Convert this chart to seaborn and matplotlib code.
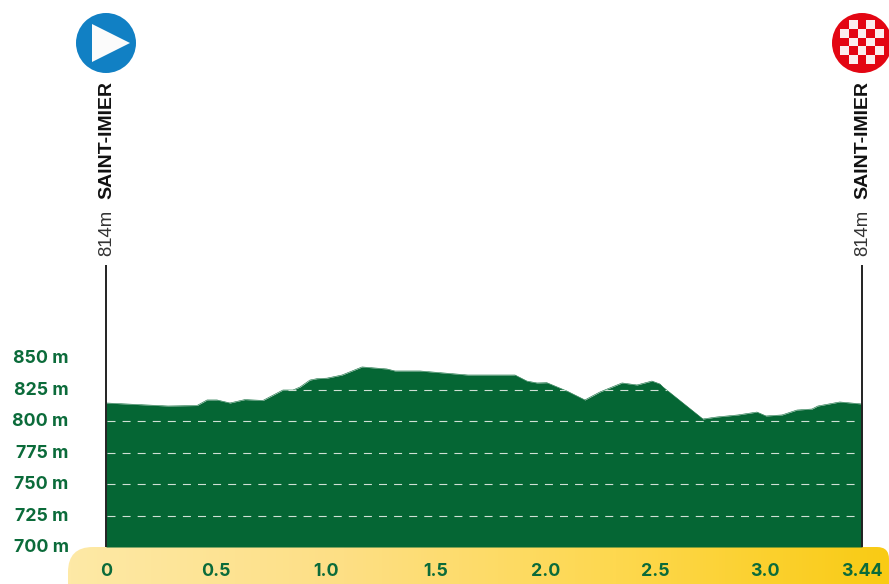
import numpy as np
import seaborn as sns
from matplotlib import pyplot as plt
from matplotlib.colors import LinearSegmentedColormap
from matplotlib.patches import Circle, PathPatch, Polygon, Rectangle
from matplotlib.path import Path
from matplotlib.transforms import ScaledTranslation

# profile
km = [0, 0.282, 0.414, 0.46, 0.505, 0.564, 0.632, 0.714, 0.805, 0.851, 0.883, 0.928,
      0.96, 1.005, 1.074, 1.165, 1.278, 1.315, 1.429, 1.647, 1.861, 1.915, 1.961, 2.006,
      2.097, 2.179, 2.247, 2.348, 2.416, 2.484, 2.52, 2.534, 2.716, 2.78, 2.875, 2.962,
      3.003, 3.076, 3.144, 3.212, 3.239, 3.339, 3.44]
elevation = [814.3, 811.9, 812.3, 816.7, 816.7, 814.3, 817, 816.3, 824.6, 824.6, 827, 832.5,
             833.6, 834, 836.5, 842.9, 841.3, 839.7, 839.7, 836.5, 836.5, 831.7, 830.2, 830.4,
             823.8, 816.7, 823, 830.2, 828.6, 831.7, 829.4, 827, 801.6, 803.2, 804.8, 807.1,
             804, 804.8, 808.7, 809.5, 811.9, 815.1, 813.5]
x_ticks = [0, 0.5, 1.0, 1.5, 2.0, 2.5, 3.0, 3.44]
x_labels = ['0', '0.5', '1.0', '1.5', '2.0', '2.5', '3.0', '3.44']
y_ticks = [700, 725, 750, 775, 800, 825, 850]
y_labels = ['700 m', '725 m', '750 m', '775 m', '800 m', '825 m', '850 m']
grid_levels = [725, 750, 775, 800, 825]
town = 'SAINT-IMIER'
town_height = '814m'

GREEN = '#056634'
LABEL_GREEN = '#0b6b3a'
W, H = 889, 584

sns.set_theme(style='white')
plt.rcParams['font.family'] = ['Liberation Sans', 'DejaVu Sans']

fig = plt.figure(figsize=(W / 100, H / 100), dpi=100)

# background layer in pixel coordinates: ribbon, badges, names
deco = fig.add_axes([0, 0, 1, 1], zorder=0)
deco.set_xlim(0, W)
deco.set_ylim(H, 0)
deco.axis('off')

ribbon = Path([(68, 590), (68, 547 + 25), (68, 547), (93, 547), (877, 547), (889, 547), (889, 559), (889, 590), (68, 590)],
              [Path.MOVETO, Path.LINETO, Path.CURVE3, Path.CURVE3, Path.LINETO, Path.CURVE3, Path.CURVE3, Path.LINETO, Path.CLOSEPOLY])
ribbon_patch = PathPatch(ribbon, fc='none', ec='none')
deco.add_patch(ribbon_patch)
ribbon_cmap = LinearSegmentedColormap.from_list('ribbon', ['#fee9a6', '#fddf85', '#fed84f', '#f9cb14'])
im = deco.imshow(np.linspace(0, 1, 256).reshape(1, -1), cmap=ribbon_cmap, extent=(68, 889, 590, 547), aspect='auto')
im.set_clip_path(ribbon_patch)
deco.set_xlim(0, W)
deco.set_ylim(H, 0)

# start badge
deco.add_patch(Circle((106, 43), 30, fc='#1180c4', ec='none'))
deco.add_patch(Polygon([(92, 24), (130, 43), (92, 62)], fc='#fbfbfb', ec='none'))

# finish badge
deco.add_patch(Circle((862, 43), 30, fc='#e30613', ec='none'))
cell = 8.8
for r in range(5):
    for c in range(5):
        if (r + c) % 2 == 1:
            deco.add_patch(Rectangle((840 + c * cell, 20 + r * cell), cell, cell, fc='#fbeeee', ec='none'))

for x in [106, 862]:
    deco.text(x + 1.2, 81, town, rotation=90, ha='center', va='top', fontsize=14,
              fontweight='bold', color='#111111')
    deco.text(x + 1.2, 255.5, town_height, rotation=90, ha='center', va='bottom', fontsize=13.4,
              color='#333333')

# main profile
ax = fig.add_axes([106 / W, (H - 547) / H, 756 / W, 189 / H], zorder=2)
ax.patch.set_alpha(0)
sns.lineplot(x=km, y=elevation, ax=ax, color=GREEN, lw=0.4, estimator=None, sort=False)
ax.fill_between(km, elevation, 700, color=GREEN, lw=0)
ax.set_xlim(0, 3.44)
ax.set_ylim(700, 850)

clip_shape = Polygon(list(zip(km, elevation)) + [(3.44, 700), (0, 700)], closed=True,
                     transform=ax.transData, fc='none', ec='none')
ax.add_patch(clip_shape)
for level in grid_levels:
    dash_line, = ax.plot([0.005, 3.42], [level, level], color='#cfe0d5', lw=0.8,
                         linestyle=(0, (7.2, 6.375)), dash_capstyle='butt')
    dash_line.set_clip_path(clip_shape)

# poles up to the town names
for x in [0, 3.44]:
    ax.plot([x, x], [700, 923.8], color='#222222', lw=1.4, clip_on=False, solid_capstyle='butt')

ax.set_xticks(x_ticks, x_labels)
ax.set_yticks(y_ticks, y_labels)
ax.tick_params(axis='x', length=0, pad=11.5)
ax.tick_params(axis='y', length=0, pad=27)
for t in ax.get_xticklabels() + ax.get_yticklabels():
    t.set_family(['Inter', 'DejaVu Sans'])
    t.set_fontweight('bold')
    t.set_fontsize(12.8)
    t.set_color(LABEL_GREEN)
# labels sit a little above their level
for t in ax.get_yticklabels():
    t.set_transform(t.get_transform() + ScaledTranslation(0, 0.8 / 72, fig.dpi_scale_trans))
ax.set_xlabel('')
ax.set_ylabel('')
sns.despine(ax=ax, left=True, bottom=True)

fig.savefig('out.png', dpi=100)
